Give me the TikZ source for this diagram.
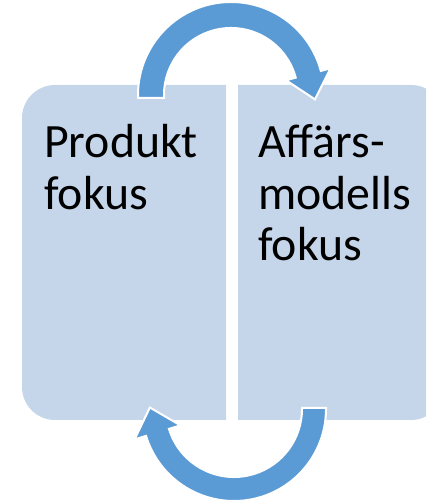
\documentclass[tikz,border=0pt]{standalone}
\usepackage{fontspec}
\setmainfont{Carlito}
\usetikzlibrary{calc}
\definecolor{boxblue}{HTML}{C5D5EA}
\definecolor{arrowblue}{HTML}{5B9BD5}
\tikzset{
  panel/.style={fill=boxblue},
  cyclearrow/.style={fill=arrowblue, draw=white, line width=2bp, line join=miter},
  paneltext/.style={anchor=north west, inner sep=0pt, align=left, text=black,
    font=\fontsize{48}{52}\selectfont}
}
\begin{document}
\begin{tikzpicture}[x=1bp,y=1bp]
\useasboundingbox (0,0) rectangle (426,502);
\clip (0,0) rectangle (426,502);
% panels
\fill[panel] (226,417) -- (55,417) arc[start angle=90,end angle=180,radius=33]
  -- (22,115) arc[start angle=180,end angle=270,radius=33] -- (226,82) -- cycle;
\fill[panel] (238,82) -- (238,417) -- (411,417) arc[start angle=90,end angle=0,radius=33]
  -- (444,115) arc[start angle=0,end angle=-90,radius=33] -- cycle;
% texts
\node[paneltext] (left) at (44,378) {Produkt\\fokus};
\node[paneltext] (right) at (258,378) {Affärs-\\modells\\fokus};
% top cycle arrow
\coordinate (tc) at (231,407);
\draw[cyclearrow] ($(tc)+(-93,-3)$) -- ($(tc)+(-93,0)$)
  arc[start angle=180,end angle=15,radius=93]
  -- ($(tc)+(15:103)$) -- ($(tc)+(15:80)+(-75:26)$) -- ($(tc)+(15:57)$)
  -- ($(tc)+(15:67)$) arc[start angle=15,end angle=180,radius=67]
  -- ($(tc)+(-67,-3)$) -- cycle;
% bottom cycle arrow
\coordinate (bc) at (234,93);
\draw[cyclearrow] ($(bc)+(68,1)$) -- ($(bc)+(92,1)$) -- ($(bc)+(92,0)$)
  arc[start angle=0,end angle=-163,radius=92]
  -- ($(bc)+(-163:104)$) -- ($(bc)+(-163:80)+(107:26)$) -- ($(bc)+(-163:56)$)
  -- ($(bc)+(-163:68)$) arc[start angle=-163,end angle=0,radius=68]
  -- cycle;
\end{tikzpicture}
\end{document}
